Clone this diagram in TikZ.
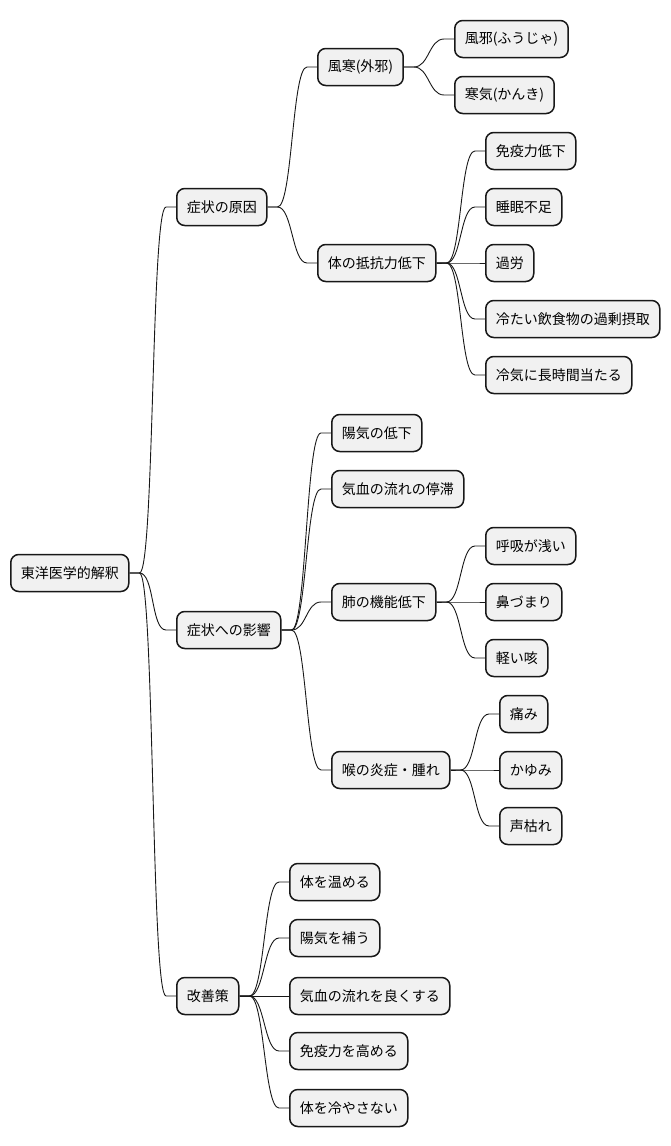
\documentclass[tikz,border=0pt]{standalone}
\usepackage{fontspec}
\setmainfont{Noto Sans CJK JP}
\definecolor{ideafill}{HTML}{F1F1F1}
\definecolor{idealine}{HTML}{181818}
\begin{document}
\begin{tikzpicture}[x=1pt,y=-1pt,
    idea/.style={draw=idealine, fill=ideafill, line width=1.5pt, rounded corners=8pt,
        anchor=west, minimum height=37pt, inner xsep=10pt, inner ysep=0pt,
        font=\fontsize{14}{16}\selectfont},
    link/.style={draw=idealine, line width=0.9pt},
    curve/.style={out=0, in=180, distance=15pt}]
    \useasboundingbox (0,0) rectangle (670,1146);

    \node[idea] (root) at (10,573) {東洋医学的解釈};

    \node[idea] (cause)  at (176,207) {症状の原因};
    \node[idea] (effect) at (176,630) {症状への影響};
    \node[idea] (remedy) at (176,996) {改善策};

    \node[idea] (wind)   at (317,67)  {風寒(外邪)};
    \node[idea] (resist) at (317,263) {体の抵抗力低下};
    \node[idea] (fuja)   at (454,39)  {風邪(ふうじゃ)};
    \node[idea] (kanki)  at (454,95)  {寒気(かんき)};
    \node[idea] (immune)   at (485,151) {免疫力低下};
    \node[idea] (sleep)    at (485,207) {睡眠不足};
    \node[idea] (fatigue)  at (485,263) {過労};
    \node[idea] (coldfood) at (485,319) {冷たい飲食物の過剰摂取};
    \node[idea] (coldair)  at (485,375) {冷気に長時間当たる};

    \node[idea] (yangdown)   at (331,433) {陽気の低下};
    \node[idea] (stagnation) at (331,489) {気血の流れの停滞};
    \node[idea] (lung)       at (331,602) {肺の機能低下};
    \node[idea] (throat)     at (331,770) {喉の炎症・腫れ};
    \node[idea] (shallow) at (485,546) {呼吸が浅い};
    \node[idea] (nose)    at (485,602) {鼻づまり};
    \node[idea] (cough)   at (485,658) {軽い咳};
    \node[idea] (pain)    at (499,714) {痛み};
    \node[idea] (itch)    at (499,770) {かゆみ};
    \node[idea] (hoarse)  at (499,826) {声枯れ};

    \node[idea] (warm)   at (289,882)  {体を温める};
    \node[idea] (yangup) at (289,938)  {陽気を補う};
    \node[idea] (flow)   at (289,996)  {気血の流れを良くする};
    \node[idea] (immup)  at (289,1051) {免疫力を高める};
    \node[idea] (nocool) at (289,1108) {体を冷やさない};

    \draw[link] (root.east) -- ++(10,0) to[curve] ([xshift=-10pt]cause.west) -- (cause.west);
    \draw[link] (root.east) -- ++(10,0) to[curve] ([xshift=-10pt]effect.west) -- (effect.west);
    \draw[link] (root.east) -- ++(10,0) to[curve] ([xshift=-10pt]remedy.west) -- (remedy.west);

    \draw[link] (cause.east) -- ++(10,0) to[curve] ([xshift=-10pt]wind.west) -- (wind.west);
    \draw[link] (cause.east) -- ++(10,0) to[curve] ([xshift=-10pt]resist.west) -- (resist.west);
    \draw[link] (wind.east) -- ++(10,0) to[curve] ([xshift=-10pt]fuja.west) -- (fuja.west);
    \draw[link] (wind.east) -- ++(10,0) to[curve] ([xshift=-10pt]kanki.west) -- (kanki.west);
    \draw[link] (resist.east) -- ++(10,0) to[curve] ([xshift=-10pt]immune.west) -- (immune.west);
    \draw[link] (resist.east) -- ++(10,0) to[curve] ([xshift=-10pt]sleep.west) -- (sleep.west);
    \draw[link] (resist.east) -- ++(10,0) to[curve] ([xshift=-10pt]fatigue.west) -- (fatigue.west);
    \draw[link] (resist.east) -- ++(10,0) to[curve] ([xshift=-10pt]coldfood.west) -- (coldfood.west);
    \draw[link] (resist.east) -- ++(10,0) to[curve] ([xshift=-10pt]coldair.west) -- (coldair.west);

    \draw[link] (effect.east) -- ++(10,0) to[curve] ([xshift=-10pt]yangdown.west) -- (yangdown.west);
    \draw[link] (effect.east) -- ++(10,0) to[curve] ([xshift=-10pt]stagnation.west) -- (stagnation.west);
    \draw[link] (effect.east) -- ++(10,0) to[curve] ([xshift=-10pt]lung.west) -- (lung.west);
    \draw[link] (effect.east) -- ++(10,0) to[curve] ([xshift=-10pt]throat.west) -- (throat.west);
    \draw[link] (lung.east) -- ++(10,0) to[curve] ([xshift=-10pt]shallow.west) -- (shallow.west);
    \draw[link] (lung.east) -- ++(10,0) to[curve] ([xshift=-10pt]nose.west) -- (nose.west);
    \draw[link] (lung.east) -- ++(10,0) to[curve] ([xshift=-10pt]cough.west) -- (cough.west);
    \draw[link] (throat.east) -- ++(10,0) to[curve] ([xshift=-10pt]pain.west) -- (pain.west);
    \draw[link] (throat.east) -- ++(10,0) to[curve] ([xshift=-10pt]itch.west) -- (itch.west);
    \draw[link] (throat.east) -- ++(10,0) to[curve] ([xshift=-10pt]hoarse.west) -- (hoarse.west);

    \draw[link] (remedy.east) -- ++(10,0) to[curve] ([xshift=-10pt]warm.west) -- (warm.west);
    \draw[link] (remedy.east) -- ++(10,0) to[curve] ([xshift=-10pt]yangup.west) -- (yangup.west);
    \draw[link] (remedy.east) -- ++(10,0) to[curve] ([xshift=-10pt]flow.west) -- (flow.west);
    \draw[link] (remedy.east) -- ++(10,0) to[curve] ([xshift=-10pt]immup.west) -- (immup.west);
    \draw[link] (remedy.east) -- ++(10,0) to[curve] ([xshift=-10pt]nocool.west) -- (nocool.west);
\end{tikzpicture}
\end{document}
